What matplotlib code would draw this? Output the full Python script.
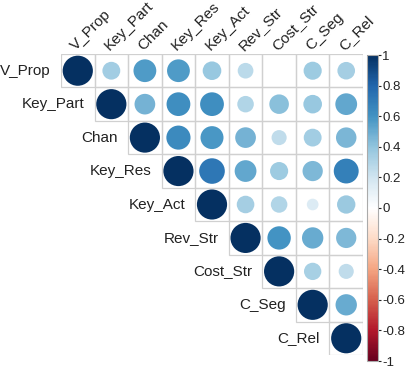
import numpy as np
import matplotlib
matplotlib.use("Agg")
import matplotlib.pyplot as plt
from matplotlib.colors import LinearSegmentedColormap, Normalize
from matplotlib.patches import Circle, Rectangle
from matplotlib.colorbar import ColorbarBase

plt.rcParams["font.family"] = ["Liberation Sans", "DejaVu Sans"]

names = ["V_Prop", "Key_Part", "Chan", "Key_Res", "Key_Act",
         "Rev_Str", "Cost_Str", "C_Seg", "C_Rel"]

# upper triangle, row by row (values right of the diagonal)
row_vals = [
    [0.35, 0.57, 0.57, 0.38, 0.27, 0.0, 0.36, 0.34],
    [0.47, 0.62, 0.62, 0.30, 0.42, 0.38, 0.52],
    [0.64, 0.58, 0.47, 0.25, 0.35, 0.46],
    [0.72, 0.52, 0.36, 0.45, 0.68],
    [0.34, 0.30, 0.15, 0.37],
    [0.60, 0.50, 0.45],
    [0.33, 0.25],
    [0.50],
]

n = len(names)
corr = np.eye(n)
for i, vals in enumerate(row_vals):
    for k, v in enumerate(vals):
        corr[i, i + 1 + k] = v
        corr[i + 1 + k, i] = v

cols = ["#67001F", "#B2182B", "#D6604D", "#F4A582", "#FDDBC7", "#FFFFFF",
        "#D1E5F0", "#92C5DE", "#4393C3", "#2166AC", "#053061"]
cmap = LinearSegmentedColormap.from_list("corrRdBu", cols)
norm = Normalize(-1, 1)

W, H = 405, 370
fig = plt.figure(figsize=(W / 100, H / 100), dpi=100)
ax = fig.add_axes([61 / W, 1 - 355 / H, 302 / W, 301 / H])
ax.set_xlim(0, n)
ax.set_ylim(n, 0)
ax.axis("off")

for i in range(n):
    for j in range(i, n):
        ax.add_patch(Rectangle((j, i), 1, 1, fill=False, edgecolor="#d0d0d0", lw=0.9))
        r = corr[i, j]
        if abs(r) > 0.005:
            rad = 0.9 * np.sqrt(abs(r)) / 2
            ax.add_patch(Circle((j + 0.5, i + 0.5), rad, color=cmap(norm(r)), lw=0))

for i, name in enumerate(names):
    ax.text(i - 0.3, i + 0.5, name, ha="right", va="center", fontsize=11,
            color="#222222", clip_on=False)
    ax.text(0.45 + i, -0.1, name, ha="left", va="baseline", rotation=45,
            rotation_mode="anchor", fontsize=11, color="#222222", clip_on=False)

cax = fig.add_axes([367 / W, 1 - 361 / H, 11 / W, 306 / H])
cb = ColorbarBase(cax, cmap=cmap, norm=norm, orientation="vertical")
ticks = np.round(np.arange(-1, 1.01, 0.2), 1)
cb.set_ticks(ticks)
cb.set_ticklabels([("%g" % t) if abs(t) > 1e-9 else "0" for t in ticks])
cb.outline.set_edgecolor("#aaaaaa")
cax.tick_params(labelsize=9.5, colors="#222222", length=2.5, width=0.8, pad=0.5)

fig.savefig("out.png", dpi=100)
